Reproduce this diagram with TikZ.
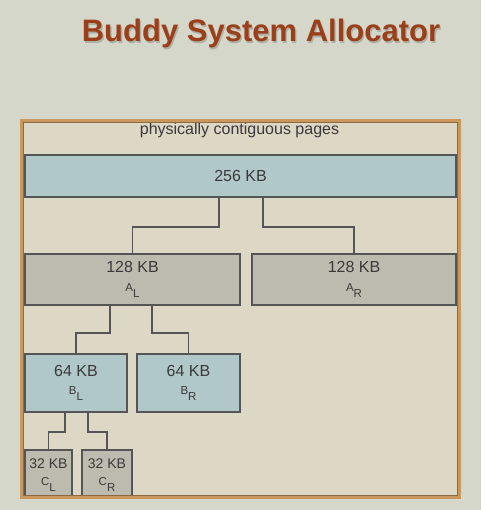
\documentclass[tikz,border=0pt]{standalone}
\usepackage{fontspec}
\setmainfont{Liberation Sans}
\definecolor{bg}{HTML}{D4D7CA}
\definecolor{framefill}{HTML}{DDD7C6}
\definecolor{frameline}{HTML}{C9985C}
\definecolor{blueb}{HTML}{B1C8C8}
\definecolor{greyb}{HTML}{BDBBAF}
\definecolor{lineC}{HTML}{555555}
\definecolor{txt}{HTML}{3A3A3A}
\definecolor{titleC}{HTML}{9B3F1B}
\newcommand{\sublbl}[2]{{\fontsize{11.5}{11.5}\selectfont #1\raisebox{-6pt}{#2}}}
\tikzset{
  blk/.style={draw=lineC, line width=1.1pt, inner sep=0pt, outer sep=0pt, text=txt, align=center,
    font=\fontsize{16}{16}\selectfont, anchor=north west},
  bluebox/.style={blk, fill=blueb},
  greybox/.style={blk, fill=greyb},
  conn/.style={draw=lineC, line width=1.1pt},
}
\begin{document}
\begin{tikzpicture}[x=1pt,y=-1pt]
\fill[bg] (0,0) rectangle (481,510);
\useasboundingbox (0,0) rectangle (481,510);
% title
\node[anchor=base, text=black, opacity=0.18, font=\bfseries\fontsize{31}{31}\selectfont] at (262.3,43.3) {Buddy System Allocator};
\node[anchor=base, text=titleC, font=\bfseries\fontsize{31}{31}\selectfont] (title) at (261,42) {Buddy System Allocator};
% frame
\fill[framefill] (22,121) rectangle (459,497);
\node[anchor=base, text=txt, font=\fontsize{16}{16}\selectfont] (caption) at (239.5,135) {physically contiguous pages};
% boxes
\node[bluebox, minimum width=431, minimum height=42] (root) at (25,155) {256 KB};
\node[greybox, minimum width=215, minimum height=51] (AL) at (25,254) {128 KB\\[2.5pt]\sublbl{A}{L}};
\node[greybox, minimum width=204, minimum height=51] (AR) at (252,254) {128 KB\\[2.5pt]\sublbl{A}{R}};
\node[bluebox, minimum width=102, minimum height=58] (BL) at (25,354) {64 KB\\[2.5pt]\sublbl{B}{L}};
\node[bluebox, minimum width=103, minimum height=58] (BR) at (137,354) {64 KB\\[2.5pt]\sublbl{B}{R}};
\node[greybox, minimum width=47, minimum height=50, font=\fontsize{14}{14}\selectfont] (CL) at (25,450) {32 KB\\[3.5pt]\sublbl{C}{L}};
\node[greybox, minimum width=50, minimum height=50, font=\fontsize{14}{14}\selectfont] (CR) at (82,450) {32 KB\\[3.5pt]\sublbl{C}{R}};
% connectors
\draw[conn] ([xshift=-21.5pt]root.south) -- ++(0,30) -| (AL.north);
\draw[conn] ([xshift=22.5pt]root.south) -- ++(0,30) -| (AR.north);
\draw[conn] ([xshift=-22.5pt]AL.south) -- ++(0,28) -| (BL.north);
\draw[conn] ([xshift=19.5pt]AL.south) -- ++(0,28) -| (BR.north);
\draw[conn] ([xshift=-11pt]BL.south) -- ++(0,20) -| (CL.north);
\draw[conn] ([xshift=12pt]BL.south) -- ++(0,20) -| (CR.north);
% frame border on top
\fill[bg] (0,498.5) rectangle (481,510);
\draw[frameline, line width=2.2pt] (21.5,120.5) rectangle (459.5,497.5);
\draw[frameline!70!black, line width=0.6pt] (23.3,122.3) rectangle (457.7,495.7);
\end{tikzpicture}
\end{document}
